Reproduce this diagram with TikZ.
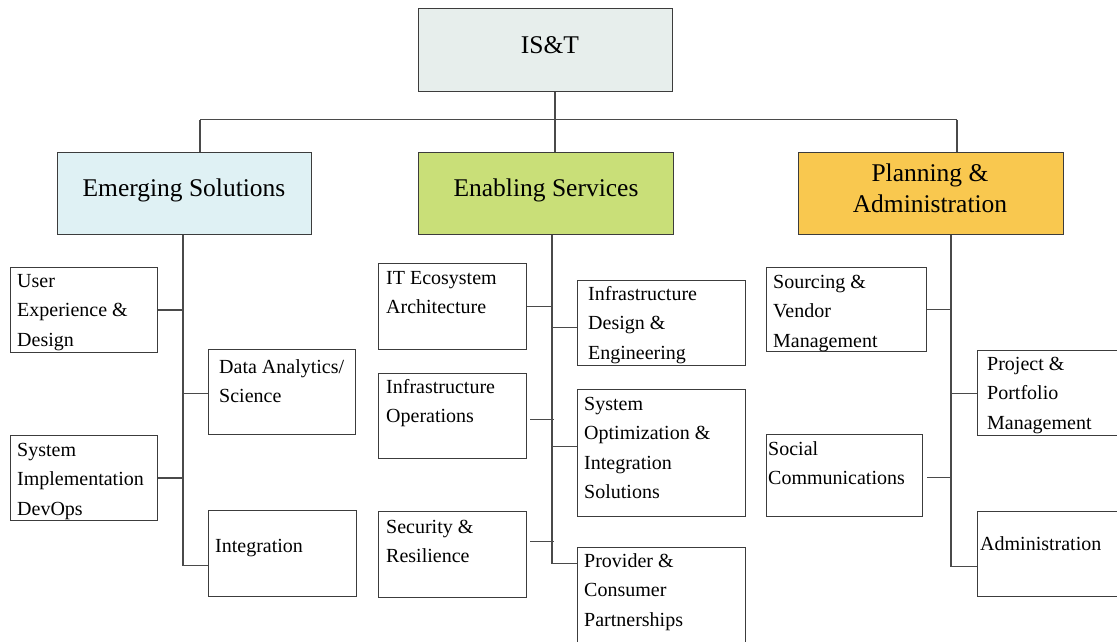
\documentclass[tikz,border=0pt]{standalone}
\usepackage{fontspec}
\setmainfont{Liberation Serif}
\definecolor{boxline}{HTML}{3C3C3C}
\definecolor{linkgray}{HTML}{4A4A4A}
\definecolor{topfill}{HTML}{E7EEEC}
\definecolor{emfill}{HTML}{DFF1F4}
\definecolor{enfill}{HTML}{C9DF78}
\definecolor{plfill}{HTML}{F9C84F}
% multi-line box caption whose first baseline sits on the node's base anchor
\newcommand\boxlines[1]{\parbox[t]{300pt}{\fontsize{20}{29.5}\selectfont\raggedright #1}}
\begin{document}
\begin{tikzpicture}[x=1pt,y=-1pt,
  box/.style={draw=boxline, line width=1.1pt, inner sep=0pt, anchor=north west, fill=white},
  txt/.style={inner sep=0pt, anchor=base west},
  head/.style={inner sep=0pt, anchor=base, font=\fontsize{25.5}{30}\selectfont},
  link/.style={draw=linkgray, line width=1.4pt},
]
\useasboundingbox (0,0) rectangle (1117,641);
\clip (0,0) rectangle (1117,641);

% ---- top level
\node[box, fill=topfill, minimum width=254pt, minimum height=83pt] (ist) at (418,8) {};
\node[head] (istT) at (550,53) {IS\&T};

% ---- divisions
\node[box, fill=emfill, minimum width=254pt, minimum height=82pt] (es) at (57,152) {};
\node[box, fill=enfill, minimum width=255pt, minimum height=82pt] (en) at (418,152) {};
\node[box, fill=plfill, minimum width=265pt, minimum height=82pt] (pl) at (798,152) {};
\node[head] (esT) at (184,196) {Emerging Solutions};
\node[head] (enT) at (546,196) {Enabling Services};
\node[head] (plT1) at (930,181) {Planning \&};
\node[head] (plT2) at (930,212) {Administration};

% ---- Emerging Solutions units
\node[box, minimum width=147pt, minimum height=85pt] (ux) at (10,267) {};
\node[txt] (uxT) at (17,287) {\boxlines{User\\Experience \&\\Design}};
\node[box, minimum width=147pt, minimum height=85pt] (da) at (208,349) {};
\node[txt] (daT) at (219,373) {\boxlines{Data Analytics/\\Science}};
\node[box, minimum width=147pt, minimum height=85pt] (si) at (10,435) {};
\node[txt] (siT) at (17,456) {\boxlines{System\\Implementation\\DevOps}};
\node[box, minimum width=148pt, minimum height=86pt] (ig) at (208,510) {};
\node[txt] (igT) at (215,552) {\boxlines{Integration}};

% ---- Enabling Services units
\node[box, minimum width=148pt, minimum height=86pt] (ie) at (378,263) {};
\node[txt] (ieT) at (386,284) {\boxlines{IT Ecosystem\\Architecture}};
\node[box, minimum width=168pt, minimum height=85pt] (id) at (577,280) {};
\node[txt] (idT) at (588,300) {\boxlines{Infrastructure\\Design \&\\Engineering}};
\node[box, minimum width=148pt, minimum height=85pt] (io) at (378,373) {};
\node[txt] (ioT) at (386,393) {\boxlines{Infrastructure\\Operations}};
\node[box, minimum width=168pt, minimum height=127pt] (so) at (577,389) {};
\node[txt] (soT) at (584,410) {\boxlines{System\\Optimization \&\\Integration\\Solutions}};
\node[box, minimum width=148pt, minimum height=86pt] (sr) at (378,511) {};
\node[txt] (srT) at (386,533) {\boxlines{Security \&\\Resilience}};
\node[box, minimum width=168pt, minimum height=100pt] (pc) at (577,547) {};
\node[txt] (pcT) at (584,567) {\boxlines{Provider \&\\Consumer\\Partnerships}};

% ---- Planning & Administration units
\node[box, minimum width=160pt, minimum height=84pt] (sv) at (766,267) {};
\node[txt] (svT) at (773,288) {\boxlines{Sourcing \&\\Vendor\\Management}};
\node[box, minimum width=160pt, minimum height=85pt] (pp) at (977,350) {};
\node[txt] (ppT) at (987,370) {\boxlines{Project \&\\Portfolio\\Management}};
\node[box, minimum width=156pt, minimum height=82pt] (sc) at (766,434) {};
\node[txt] (scT) at (768,455) {\boxlines{Social\\Communications}};
\node[box, minimum width=160pt, minimum height=85pt] (ad) at (977,511) {};
\node[txt] (adT) at (980,550) {\boxlines{Administration}};

% ---- trunk end points
\coordinate (bus) at (555,119.5);
\coordinate (esEnd) at (183,565.5);
\coordinate (enEnd) at (552,563.5);
\coordinate (plEnd) at (951,566.5);

% ---- top bus
\draw[link] (ist.south -| bus) -- (bus);
\draw[link] (200,119.5) -- (957,119.5);
\draw[link] (200,119.5) -- (es.north -| 200,0);
\draw[link] (bus) -- (en.north -| bus);
\draw[link] (957,119.5) -- (pl.north -| 957,0);

% ---- Emerging Solutions trunk
\draw[link] (es.south -| esEnd) -- (esEnd) -- (esEnd -| ig.west);
\draw[link] (ux.east) -- (ux.east -| esEnd);
\draw[link] (da.west |- 0,393.5) -- (esEnd |- 0,393.5);
\draw[link] (si.east) -- (si.east -| esEnd);

% ---- Enabling Services trunk
\draw[link] (en.south -| enEnd) -- (enEnd) -- (enEnd -| pc.west);
\draw[link] (ie.east |- 0,306.5) -- (enEnd |- 0,306.5);
\draw[link] (id.west |- 0,327.5) -- (enEnd |- 0,327.5);
\draw[link] ([xshift=3pt]io.east |- 0,419.5) -- ([xshift=2pt]enEnd |- 0,419.5);
\draw[link] (so.west |- 0,446.5) -- (enEnd |- 0,446.5);
\draw[link] ([xshift=3pt]sr.east |- 0,541.5) -- ([xshift=2pt]enEnd |- 0,541.5);

% ---- Planning & Administration trunk
\draw[link] (pl.south -| plEnd) -- (plEnd) -- (plEnd -| ad.west);
\draw[link] (sv.east |- 0,309.5) -- (plEnd |- 0,309.5);
\draw[link] (pp.west |- 0,393.5) -- (plEnd |- 0,393.5);
\draw[link] ([xshift=4pt]sc.east |- 0,477.5) -- (plEnd |- 0,477.5);
\end{tikzpicture}
\end{document}
